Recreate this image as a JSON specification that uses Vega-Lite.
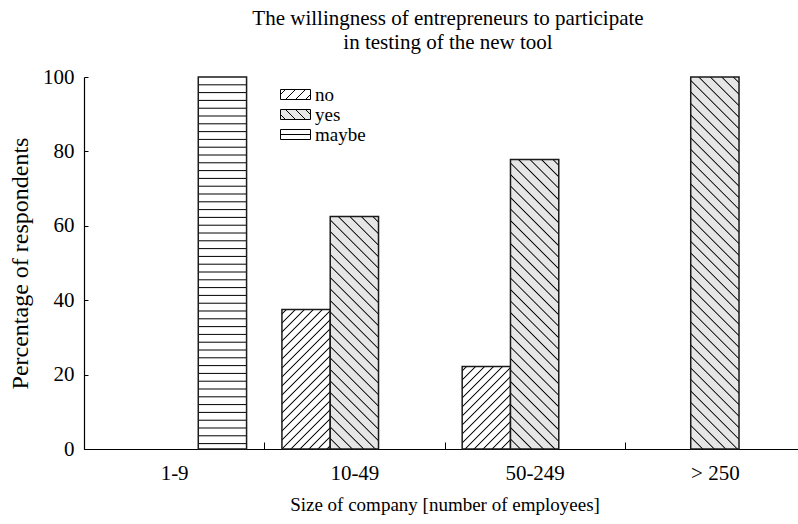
{
"$schema": "https://vega.github.io/schema/vega-lite/v6.json",
"width": 714,
"height": 372,
"autosize": {"type": "none"},
"padding": {"left": 84, "top": 77, "right": 0, "bottom": 75},
"background": "white",
"config": {"view": {"stroke": null}, "font": "Liberation Serif"},
"title": {"text": ["The willingness of entrepreneurs to participate", "in testing of the new tool"], "font": "Liberation Serif", "fontSize": 21, "fontWeight": "normal", "color": "#000", "lineHeight": 24, "offset": 13, "dx": 7, "anchor": "middle"},
"data": {"values": [
{"size": "1-9", "answer": "maybe", "pct": 100},
{"size": "10-49", "answer": "no", "pct": 37.5},
{"size": "10-49", "answer": "yes", "pct": 62.5},
{"size": "50-249", "answer": "no", "pct": 22.2},
{"size": "50-249", "answer": "yes", "pct": 77.8},
{"size": "> 250", "answer": "yes", "pct": 100}
]},
"layer": [
{
"mark": {"type": "bar", "stroke": "#1a1a1a", "strokeWidth": 1.5},
"encoding": {
"x": {"field": "size", "type": "nominal", "sort": ["1-9", "10-49", "50-249", "> 250"],
 "scale": {"domain": ["1-9", "10-49", "50-249", "> 250"], "range": [0, 721], "paddingInner": 0, "paddingOuter": 0},
 "axis": {"title": "Size of company [number of employees]", "titleFont": "Liberation Serif", "titleFontSize": 19, "titleFontWeight": "normal", "titleColor": "#000", "titlePadding": 12,
  "labelFont": "Liberation Serif", "labelFontSize": 21, "labelColor": "#000", "labelAngle": 0, "labelPadding": 20,
  "tickBand": "extent", "tickSize": -7, "tickColor": "#000", "tickWidth": 1, "domainColor": "#000", "domainWidth": 1.2, "grid": false}},
"xOffset": {"field": "answer", "type": "nominal", "scale": {"domain": ["no", "yes", "maybe"], "paddingInner": 0, "paddingOuter": 0.366}},
"y": {"field": "pct", "type": "quantitative", "scale": {"domain": [0, 100]},
 "axis": {"title": "Percentage of respondents", "values": [0, 20, 40, 60, 80, 100], "titleFont": "Liberation Serif", "titleFontSize": 24, "titleFontWeight": "normal", "titleColor": "#000", "titlePadding": 10,
  "labelFont": "Liberation Serif", "labelFontSize": 21, "labelColor": "#000", "labelPadding": 14,
  "tickSize": -4, "tickColor": "#000", "tickWidth": 1, "domainColor": "#000", "domainWidth": 1.2, "grid": false}},
"fill": {"field": "answer", "type": "nominal",
 "scale": {"domain": ["no", "yes", "maybe"], "range": ["#ffffff", "#e6e6e6", "#fefefe"]},
 "legend": {"orient": "none", "legendX": 202, "legendY": 8, "title": null, "symbolSize": 324, "symbolStrokeColor": "#000", "symbolStrokeWidth": 1,
  "labelFont": "Liberation Serif", "labelFontSize": 19, "labelColor": "#000", "labelOffset": 10, "rowPadding": 0,
  "encode": {"symbols": {"update": {"stroke": {"value": "#000"}, "strokeWidth": {"value": 1}}}}},
 "condition": [
  {"test": "datum.answer==='no'&&datum.size==='10-49'", "value": {"gradient": "linear", "x1": 0, "y1": 0, "x2": 0.4162, "y2": 1.2021, "stops": [
   {"offset": 0.0171, "color": "#fff"}, {"offset": 0.0240, "color": "#000"}, {"offset": 0.0309, "color": "#fff"},
   {"offset": 0.0650, "color": "#fff"}, {"offset": 0.0719, "color": "#000"}, {"offset": 0.0788, "color": "#fff"},
   {"offset": 0.1129, "color": "#fff"}, {"offset": 0.1198, "color": "#000"}, {"offset": 0.1267, "color": "#fff"},
   {"offset": 0.1608, "color": "#fff"}, {"offset": 0.1677, "color": "#000"}, {"offset": 0.1746, "color": "#fff"},
   {"offset": 0.2088, "color": "#fff"}, {"offset": 0.2157, "color": "#000"}, {"offset": 0.2226, "color": "#fff"},
   {"offset": 0.2567, "color": "#fff"}, {"offset": 0.2636, "color": "#000"}, {"offset": 0.2705, "color": "#fff"},
   {"offset": 0.3046, "color": "#fff"}, {"offset": 0.3115, "color": "#000"}, {"offset": 0.3184, "color": "#fff"},
   {"offset": 0.3525, "color": "#fff"}, {"offset": 0.3594, "color": "#000"}, {"offset": 0.3663, "color": "#fff"},
   {"offset": 0.4004, "color": "#fff"}, {"offset": 0.4073, "color": "#000"}, {"offset": 0.4142, "color": "#fff"},
   {"offset": 0.4484, "color": "#fff"}, {"offset": 0.4553, "color": "#000"}, {"offset": 0.4622, "color": "#fff"},
   {"offset": 0.4963, "color": "#fff"}, {"offset": 0.5032, "color": "#000"}, {"offset": 0.5101, "color": "#fff"},
   {"offset": 0.5442, "color": "#fff"}, {"offset": 0.5511, "color": "#000"}, {"offset": 0.5580, "color": "#fff"},
   {"offset": 0.5921, "color": "#fff"}, {"offset": 0.5990, "color": "#000"}, {"offset": 0.6059, "color": "#fff"},
   {"offset": 0.6401, "color": "#fff"}, {"offset": 0.6470, "color": "#000"}, {"offset": 0.6539, "color": "#fff"},
   {"offset": 0.6880, "color": "#fff"}, {"offset": 0.6949, "color": "#000"}, {"offset": 0.7018, "color": "#fff"},
   {"offset": 0.7359, "color": "#fff"}, {"offset": 0.7428, "color": "#000"}, {"offset": 0.7497, "color": "#fff"},
   {"offset": 0.7838, "color": "#fff"}, {"offset": 0.7907, "color": "#000"}, {"offset": 0.7976, "color": "#fff"},
   {"offset": 0.8318, "color": "#fff"}, {"offset": 0.8387, "color": "#000"}, {"offset": 0.8456, "color": "#fff"},
   {"offset": 0.8797, "color": "#fff"}, {"offset": 0.8866, "color": "#000"}, {"offset": 0.8935, "color": "#fff"},
   {"offset": 0.9276, "color": "#fff"}, {"offset": 0.9345, "color": "#000"}, {"offset": 0.9414, "color": "#fff"},
   {"offset": 0.9755, "color": "#fff"}, {"offset": 0.9824, "color": "#000"}, {"offset": 0.9893, "color": "#fff"}]}},
  {"test": "datum.answer==='no'&&datum.size==='50-249'", "value": {"gradient": "linear", "x1": 0, "y1": 0, "x2": 0.6907, "y2": 1.1809, "stops": [
   {"offset": 0.0245, "color": "#fff"}, {"offset": 0.0344, "color": "#000"}, {"offset": 0.0443, "color": "#fff"},
   {"offset": 0.0932, "color": "#fff"}, {"offset": 0.1031, "color": "#000"}, {"offset": 0.1131, "color": "#fff"},
   {"offset": 0.1620, "color": "#fff"}, {"offset": 0.1719, "color": "#000"}, {"offset": 0.1818, "color": "#fff"},
   {"offset": 0.2307, "color": "#fff"}, {"offset": 0.2407, "color": "#000"}, {"offset": 0.2506, "color": "#fff"},
   {"offset": 0.2995, "color": "#fff"}, {"offset": 0.3094, "color": "#000"}, {"offset": 0.3194, "color": "#fff"},
   {"offset": 0.3683, "color": "#fff"}, {"offset": 0.3782, "color": "#000"}, {"offset": 0.3881, "color": "#fff"},
   {"offset": 0.4370, "color": "#fff"}, {"offset": 0.4470, "color": "#000"}, {"offset": 0.4569, "color": "#fff"},
   {"offset": 0.5058, "color": "#fff"}, {"offset": 0.5157, "color": "#000"}, {"offset": 0.5257, "color": "#fff"},
   {"offset": 0.5746, "color": "#fff"}, {"offset": 0.5845, "color": "#000"}, {"offset": 0.5944, "color": "#fff"},
   {"offset": 0.6433, "color": "#fff"}, {"offset": 0.6533, "color": "#000"}, {"offset": 0.6632, "color": "#fff"},
   {"offset": 0.7121, "color": "#fff"}, {"offset": 0.7220, "color": "#000"}, {"offset": 0.7320, "color": "#fff"},
   {"offset": 0.7809, "color": "#fff"}, {"offset": 0.7908, "color": "#000"}, {"offset": 0.8007, "color": "#fff"},
   {"offset": 0.8496, "color": "#fff"}, {"offset": 0.8596, "color": "#000"}, {"offset": 0.8695, "color": "#fff"},
   {"offset": 0.9184, "color": "#fff"}, {"offset": 0.9283, "color": "#000"}, {"offset": 0.9383, "color": "#fff"}]}},
  {"test": "datum.answer==='yes'&&datum.size==='10-49'", "value": {"gradient": "linear", "x1": 1, "y1": 0, "x2": 0.7595, "y2": 1.1578, "stops": [
   {"offset": 0.0158, "color": "#e6e6e6"}, {"offset": 0.0205, "color": "#000"}, {"offset": 0.0251, "color": "#e6e6e6"},
   {"offset": 0.0568, "color": "#e6e6e6"}, {"offset": 0.0614, "color": "#000"}, {"offset": 0.0661, "color": "#e6e6e6"},
   {"offset": 0.0978, "color": "#e6e6e6"}, {"offset": 0.1024, "color": "#000"}, {"offset": 0.1070, "color": "#e6e6e6"},
   {"offset": 0.1387, "color": "#e6e6e6"}, {"offset": 0.1433, "color": "#000"}, {"offset": 0.1480, "color": "#e6e6e6"},
   {"offset": 0.1797, "color": "#e6e6e6"}, {"offset": 0.1843, "color": "#000"}, {"offset": 0.1889, "color": "#e6e6e6"},
   {"offset": 0.2206, "color": "#e6e6e6"}, {"offset": 0.2253, "color": "#000"}, {"offset": 0.2299, "color": "#e6e6e6"},
   {"offset": 0.2616, "color": "#e6e6e6"}, {"offset": 0.2662, "color": "#000"}, {"offset": 0.2708, "color": "#e6e6e6"},
   {"offset": 0.3025, "color": "#e6e6e6"}, {"offset": 0.3072, "color": "#000"}, {"offset": 0.3118, "color": "#e6e6e6"},
   {"offset": 0.3435, "color": "#e6e6e6"}, {"offset": 0.3481, "color": "#000"}, {"offset": 0.3527, "color": "#e6e6e6"},
   {"offset": 0.3844, "color": "#e6e6e6"}, {"offset": 0.3891, "color": "#000"}, {"offset": 0.3937, "color": "#e6e6e6"},
   {"offset": 0.4254, "color": "#e6e6e6"}, {"offset": 0.4300, "color": "#000"}, {"offset": 0.4347, "color": "#e6e6e6"},
   {"offset": 0.4663, "color": "#e6e6e6"}, {"offset": 0.4710, "color": "#000"}, {"offset": 0.4756, "color": "#e6e6e6"},
   {"offset": 0.5073, "color": "#e6e6e6"}, {"offset": 0.5119, "color": "#000"}, {"offset": 0.5166, "color": "#e6e6e6"},
   {"offset": 0.5483, "color": "#e6e6e6"}, {"offset": 0.5529, "color": "#000"}, {"offset": 0.5575, "color": "#e6e6e6"},
   {"offset": 0.5892, "color": "#e6e6e6"}, {"offset": 0.5938, "color": "#000"}, {"offset": 0.5985, "color": "#e6e6e6"},
   {"offset": 0.6302, "color": "#e6e6e6"}, {"offset": 0.6348, "color": "#000"}, {"offset": 0.6394, "color": "#e6e6e6"},
   {"offset": 0.6711, "color": "#e6e6e6"}, {"offset": 0.6758, "color": "#000"}, {"offset": 0.6804, "color": "#e6e6e6"},
   {"offset": 0.7121, "color": "#e6e6e6"}, {"offset": 0.7167, "color": "#000"}, {"offset": 0.7213, "color": "#e6e6e6"},
   {"offset": 0.7530, "color": "#e6e6e6"}, {"offset": 0.7577, "color": "#000"}, {"offset": 0.7623, "color": "#e6e6e6"},
   {"offset": 0.7940, "color": "#e6e6e6"}, {"offset": 0.7986, "color": "#000"}, {"offset": 0.8032, "color": "#e6e6e6"},
   {"offset": 0.8349, "color": "#e6e6e6"}, {"offset": 0.8396, "color": "#000"}, {"offset": 0.8442, "color": "#e6e6e6"},
   {"offset": 0.8759, "color": "#e6e6e6"}, {"offset": 0.8805, "color": "#000"}, {"offset": 0.8852, "color": "#e6e6e6"},
   {"offset": 0.9168, "color": "#e6e6e6"}, {"offset": 0.9215, "color": "#000"}, {"offset": 0.9261, "color": "#e6e6e6"},
   {"offset": 0.9578, "color": "#e6e6e6"}, {"offset": 0.9624, "color": "#000"}, {"offset": 0.9671, "color": "#e6e6e6"}]}},
  {"test": "datum.answer==='yes'&&datum.size==='50-249'", "value": {"gradient": "linear", "x1": 1, "y1": 0, "x2": 0.8105, "y2": 1.1353, "stops": [
   {"offset": 0.0132, "color": "#e6e6e6"}, {"offset": 0.0170, "color": "#000"}, {"offset": 0.0209, "color": "#e6e6e6"},
   {"offset": 0.0472, "color": "#e6e6e6"}, {"offset": 0.0511, "color": "#000"}, {"offset": 0.0549, "color": "#e6e6e6"},
   {"offset": 0.0813, "color": "#e6e6e6"}, {"offset": 0.0851, "color": "#000"}, {"offset": 0.0890, "color": "#e6e6e6"},
   {"offset": 0.1153, "color": "#e6e6e6"}, {"offset": 0.1192, "color": "#000"}, {"offset": 0.1230, "color": "#e6e6e6"},
   {"offset": 0.1494, "color": "#e6e6e6"}, {"offset": 0.1532, "color": "#000"}, {"offset": 0.1571, "color": "#e6e6e6"},
   {"offset": 0.1834, "color": "#e6e6e6"}, {"offset": 0.1873, "color": "#000"}, {"offset": 0.1911, "color": "#e6e6e6"},
   {"offset": 0.2175, "color": "#e6e6e6"}, {"offset": 0.2213, "color": "#000"}, {"offset": 0.2252, "color": "#e6e6e6"},
   {"offset": 0.2515, "color": "#e6e6e6"}, {"offset": 0.2554, "color": "#000"}, {"offset": 0.2592, "color": "#e6e6e6"},
   {"offset": 0.2856, "color": "#e6e6e6"}, {"offset": 0.2894, "color": "#000"}, {"offset": 0.2933, "color": "#e6e6e6"},
   {"offset": 0.3196, "color": "#e6e6e6"}, {"offset": 0.3235, "color": "#000"}, {"offset": 0.3273, "color": "#e6e6e6"},
   {"offset": 0.3537, "color": "#e6e6e6"}, {"offset": 0.3575, "color": "#000"}, {"offset": 0.3614, "color": "#e6e6e6"},
   {"offset": 0.3877, "color": "#e6e6e6"}, {"offset": 0.3916, "color": "#000"}, {"offset": 0.3955, "color": "#e6e6e6"},
   {"offset": 0.4218, "color": "#e6e6e6"}, {"offset": 0.4257, "color": "#000"}, {"offset": 0.4295, "color": "#e6e6e6"},
   {"offset": 0.4559, "color": "#e6e6e6"}, {"offset": 0.4597, "color": "#000"}, {"offset": 0.4636, "color": "#e6e6e6"},
   {"offset": 0.4899, "color": "#e6e6e6"}, {"offset": 0.4938, "color": "#000"}, {"offset": 0.4976, "color": "#e6e6e6"},
   {"offset": 0.5240, "color": "#e6e6e6"}, {"offset": 0.5278, "color": "#000"}, {"offset": 0.5317, "color": "#e6e6e6"},
   {"offset": 0.5580, "color": "#e6e6e6"}, {"offset": 0.5619, "color": "#000"}, {"offset": 0.5657, "color": "#e6e6e6"},
   {"offset": 0.5921, "color": "#e6e6e6"}, {"offset": 0.5959, "color": "#000"}, {"offset": 0.5998, "color": "#e6e6e6"},
   {"offset": 0.6261, "color": "#e6e6e6"}, {"offset": 0.6300, "color": "#000"}, {"offset": 0.6338, "color": "#e6e6e6"},
   {"offset": 0.6602, "color": "#e6e6e6"}, {"offset": 0.6640, "color": "#000"}, {"offset": 0.6679, "color": "#e6e6e6"},
   {"offset": 0.6942, "color": "#e6e6e6"}, {"offset": 0.6981, "color": "#000"}, {"offset": 0.7019, "color": "#e6e6e6"},
   {"offset": 0.7283, "color": "#e6e6e6"}, {"offset": 0.7321, "color": "#000"}, {"offset": 0.7360, "color": "#e6e6e6"},
   {"offset": 0.7623, "color": "#e6e6e6"}, {"offset": 0.7662, "color": "#000"}, {"offset": 0.7700, "color": "#e6e6e6"},
   {"offset": 0.7964, "color": "#e6e6e6"}, {"offset": 0.8002, "color": "#000"}, {"offset": 0.8041, "color": "#e6e6e6"},
   {"offset": 0.8304, "color": "#e6e6e6"}, {"offset": 0.8343, "color": "#000"}, {"offset": 0.8381, "color": "#e6e6e6"},
   {"offset": 0.8645, "color": "#e6e6e6"}, {"offset": 0.8683, "color": "#000"}, {"offset": 0.8722, "color": "#e6e6e6"},
   {"offset": 0.8985, "color": "#e6e6e6"}, {"offset": 0.9024, "color": "#000"}, {"offset": 0.9062, "color": "#e6e6e6"},
   {"offset": 0.9326, "color": "#e6e6e6"}, {"offset": 0.9364, "color": "#000"}, {"offset": 0.9403, "color": "#e6e6e6"},
   {"offset": 0.9666, "color": "#e6e6e6"}, {"offset": 0.9705, "color": "#000"}, {"offset": 0.9743, "color": "#e6e6e6"}]}},
  {"test": "datum.answer==='yes'&&datum.size==='> 250'", "value": {"gradient": "linear", "x1": 1, "y1": 0, "x2": 0.8557, "y2": 1.1111, "stops": [
   {"offset": 0.0106, "color": "#e6e6e6"}, {"offset": 0.0137, "color": "#000"}, {"offset": 0.0168, "color": "#e6e6e6"},
   {"offset": 0.0380, "color": "#e6e6e6"}, {"offset": 0.0410, "color": "#000"}, {"offset": 0.0441, "color": "#e6e6e6"},
   {"offset": 0.0653, "color": "#e6e6e6"}, {"offset": 0.0684, "color": "#000"}, {"offset": 0.0715, "color": "#e6e6e6"},
   {"offset": 0.0927, "color": "#e6e6e6"}, {"offset": 0.0958, "color": "#000"}, {"offset": 0.0989, "color": "#e6e6e6"},
   {"offset": 0.1200, "color": "#e6e6e6"}, {"offset": 0.1231, "color": "#000"}, {"offset": 0.1262, "color": "#e6e6e6"},
   {"offset": 0.1474, "color": "#e6e6e6"}, {"offset": 0.1505, "color": "#000"}, {"offset": 0.1536, "color": "#e6e6e6"},
   {"offset": 0.1748, "color": "#e6e6e6"}, {"offset": 0.1779, "color": "#000"}, {"offset": 0.1809, "color": "#e6e6e6"},
   {"offset": 0.2021, "color": "#e6e6e6"}, {"offset": 0.2052, "color": "#000"}, {"offset": 0.2083, "color": "#e6e6e6"},
   {"offset": 0.2295, "color": "#e6e6e6"}, {"offset": 0.2326, "color": "#000"}, {"offset": 0.2357, "color": "#e6e6e6"},
   {"offset": 0.2568, "color": "#e6e6e6"}, {"offset": 0.2599, "color": "#000"}, {"offset": 0.2630, "color": "#e6e6e6"},
   {"offset": 0.2842, "color": "#e6e6e6"}, {"offset": 0.2873, "color": "#000"}, {"offset": 0.2904, "color": "#e6e6e6"},
   {"offset": 0.3116, "color": "#e6e6e6"}, {"offset": 0.3147, "color": "#000"}, {"offset": 0.3177, "color": "#e6e6e6"},
   {"offset": 0.3389, "color": "#e6e6e6"}, {"offset": 0.3420, "color": "#000"}, {"offset": 0.3451, "color": "#e6e6e6"},
   {"offset": 0.3663, "color": "#e6e6e6"}, {"offset": 0.3694, "color": "#000"}, {"offset": 0.3725, "color": "#e6e6e6"},
   {"offset": 0.3937, "color": "#e6e6e6"}, {"offset": 0.3967, "color": "#000"}, {"offset": 0.3998, "color": "#e6e6e6"},
   {"offset": 0.4210, "color": "#e6e6e6"}, {"offset": 0.4241, "color": "#000"}, {"offset": 0.4272, "color": "#e6e6e6"},
   {"offset": 0.4484, "color": "#e6e6e6"}, {"offset": 0.4515, "color": "#000"}, {"offset": 0.4546, "color": "#e6e6e6"},
   {"offset": 0.4757, "color": "#e6e6e6"}, {"offset": 0.4788, "color": "#000"}, {"offset": 0.4819, "color": "#e6e6e6"},
   {"offset": 0.5031, "color": "#e6e6e6"}, {"offset": 0.5062, "color": "#000"}, {"offset": 0.5093, "color": "#e6e6e6"},
   {"offset": 0.5305, "color": "#e6e6e6"}, {"offset": 0.5335, "color": "#000"}, {"offset": 0.5366, "color": "#e6e6e6"},
   {"offset": 0.5578, "color": "#e6e6e6"}, {"offset": 0.5609, "color": "#000"}, {"offset": 0.5640, "color": "#e6e6e6"},
   {"offset": 0.5852, "color": "#e6e6e6"}, {"offset": 0.5883, "color": "#000"}, {"offset": 0.5914, "color": "#e6e6e6"},
   {"offset": 0.6125, "color": "#e6e6e6"}, {"offset": 0.6156, "color": "#000"}, {"offset": 0.6187, "color": "#e6e6e6"},
   {"offset": 0.6399, "color": "#e6e6e6"}, {"offset": 0.6430, "color": "#000"}, {"offset": 0.6461, "color": "#e6e6e6"},
   {"offset": 0.6673, "color": "#e6e6e6"}, {"offset": 0.6703, "color": "#000"}, {"offset": 0.6734, "color": "#e6e6e6"},
   {"offset": 0.6946, "color": "#e6e6e6"}, {"offset": 0.6977, "color": "#000"}, {"offset": 0.7008, "color": "#e6e6e6"},
   {"offset": 0.7220, "color": "#e6e6e6"}, {"offset": 0.7251, "color": "#000"}, {"offset": 0.7282, "color": "#e6e6e6"},
   {"offset": 0.7493, "color": "#e6e6e6"}, {"offset": 0.7524, "color": "#000"}, {"offset": 0.7555, "color": "#e6e6e6"},
   {"offset": 0.7767, "color": "#e6e6e6"}, {"offset": 0.7798, "color": "#000"}, {"offset": 0.7829, "color": "#e6e6e6"},
   {"offset": 0.8041, "color": "#e6e6e6"}, {"offset": 0.8072, "color": "#000"}, {"offset": 0.8102, "color": "#e6e6e6"},
   {"offset": 0.8314, "color": "#e6e6e6"}, {"offset": 0.8345, "color": "#000"}, {"offset": 0.8376, "color": "#e6e6e6"},
   {"offset": 0.8588, "color": "#e6e6e6"}, {"offset": 0.8619, "color": "#000"}, {"offset": 0.8650, "color": "#e6e6e6"},
   {"offset": 0.8861, "color": "#e6e6e6"}, {"offset": 0.8892, "color": "#000"}, {"offset": 0.8923, "color": "#e6e6e6"},
   {"offset": 0.9135, "color": "#e6e6e6"}, {"offset": 0.9166, "color": "#000"}, {"offset": 0.9197, "color": "#e6e6e6"},
   {"offset": 0.9409, "color": "#e6e6e6"}, {"offset": 0.9440, "color": "#000"}, {"offset": 0.9470, "color": "#e6e6e6"},
   {"offset": 0.9682, "color": "#e6e6e6"}, {"offset": 0.9713, "color": "#000"}, {"offset": 0.9744, "color": "#e6e6e6"}]}},
  {"test": "datum.answer==='maybe'", "value": {"gradient": "linear", "x1": 0, "y1": 0, "x2": 0, "y2": 1, "stops": [
   {"offset": 0.0183, "color": "#fff"}, {"offset": 0.0210, "color": "#000"}, {"offset": 0.0237, "color": "#fff"},
   {"offset": 0.0393, "color": "#fff"}, {"offset": 0.0419, "color": "#000"}, {"offset": 0.0446, "color": "#fff"},
   {"offset": 0.0602, "color": "#fff"}, {"offset": 0.0629, "color": "#000"}, {"offset": 0.0656, "color": "#fff"},
   {"offset": 0.0812, "color": "#fff"}, {"offset": 0.0839, "color": "#000"}, {"offset": 0.0866, "color": "#fff"},
   {"offset": 0.1022, "color": "#fff"}, {"offset": 0.1048, "color": "#000"}, {"offset": 0.1075, "color": "#fff"},
   {"offset": 0.1231, "color": "#fff"}, {"offset": 0.1258, "color": "#000"}, {"offset": 0.1285, "color": "#fff"},
   {"offset": 0.1441, "color": "#fff"}, {"offset": 0.1468, "color": "#000"}, {"offset": 0.1495, "color": "#fff"},
   {"offset": 0.1651, "color": "#fff"}, {"offset": 0.1677, "color": "#000"}, {"offset": 0.1704, "color": "#fff"},
   {"offset": 0.1860, "color": "#fff"}, {"offset": 0.1887, "color": "#000"}, {"offset": 0.1914, "color": "#fff"},
   {"offset": 0.2070, "color": "#fff"}, {"offset": 0.2097, "color": "#000"}, {"offset": 0.2124, "color": "#fff"},
   {"offset": 0.2280, "color": "#fff"}, {"offset": 0.2306, "color": "#000"}, {"offset": 0.2333, "color": "#fff"},
   {"offset": 0.2489, "color": "#fff"}, {"offset": 0.2516, "color": "#000"}, {"offset": 0.2543, "color": "#fff"},
   {"offset": 0.2699, "color": "#fff"}, {"offset": 0.2726, "color": "#000"}, {"offset": 0.2753, "color": "#fff"},
   {"offset": 0.2909, "color": "#fff"}, {"offset": 0.2935, "color": "#000"}, {"offset": 0.2962, "color": "#fff"},
   {"offset": 0.3118, "color": "#fff"}, {"offset": 0.3145, "color": "#000"}, {"offset": 0.3172, "color": "#fff"},
   {"offset": 0.3328, "color": "#fff"}, {"offset": 0.3355, "color": "#000"}, {"offset": 0.3382, "color": "#fff"},
   {"offset": 0.3538, "color": "#fff"}, {"offset": 0.3565, "color": "#000"}, {"offset": 0.3591, "color": "#fff"},
   {"offset": 0.3747, "color": "#fff"}, {"offset": 0.3774, "color": "#000"}, {"offset": 0.3801, "color": "#fff"},
   {"offset": 0.3957, "color": "#fff"}, {"offset": 0.3984, "color": "#000"}, {"offset": 0.4011, "color": "#fff"},
   {"offset": 0.4167, "color": "#fff"}, {"offset": 0.4194, "color": "#000"}, {"offset": 0.4220, "color": "#fff"},
   {"offset": 0.4376, "color": "#fff"}, {"offset": 0.4403, "color": "#000"}, {"offset": 0.4430, "color": "#fff"},
   {"offset": 0.4586, "color": "#fff"}, {"offset": 0.4613, "color": "#000"}, {"offset": 0.4640, "color": "#fff"},
   {"offset": 0.4796, "color": "#fff"}, {"offset": 0.4823, "color": "#000"}, {"offset": 0.4849, "color": "#fff"},
   {"offset": 0.5005, "color": "#fff"}, {"offset": 0.5032, "color": "#000"}, {"offset": 0.5059, "color": "#fff"},
   {"offset": 0.5215, "color": "#fff"}, {"offset": 0.5242, "color": "#000"}, {"offset": 0.5269, "color": "#fff"},
   {"offset": 0.5425, "color": "#fff"}, {"offset": 0.5452, "color": "#000"}, {"offset": 0.5478, "color": "#fff"},
   {"offset": 0.5634, "color": "#fff"}, {"offset": 0.5661, "color": "#000"}, {"offset": 0.5688, "color": "#fff"},
   {"offset": 0.5844, "color": "#fff"}, {"offset": 0.5871, "color": "#000"}, {"offset": 0.5898, "color": "#fff"},
   {"offset": 0.6054, "color": "#fff"}, {"offset": 0.6081, "color": "#000"}, {"offset": 0.6108, "color": "#fff"},
   {"offset": 0.6263, "color": "#fff"}, {"offset": 0.6290, "color": "#000"}, {"offset": 0.6317, "color": "#fff"},
   {"offset": 0.6473, "color": "#fff"}, {"offset": 0.6500, "color": "#000"}, {"offset": 0.6527, "color": "#fff"},
   {"offset": 0.6683, "color": "#fff"}, {"offset": 0.6710, "color": "#000"}, {"offset": 0.6737, "color": "#fff"},
   {"offset": 0.6893, "color": "#fff"}, {"offset": 0.6919, "color": "#000"}, {"offset": 0.6946, "color": "#fff"},
   {"offset": 0.7102, "color": "#fff"}, {"offset": 0.7129, "color": "#000"}, {"offset": 0.7156, "color": "#fff"},
   {"offset": 0.7312, "color": "#fff"}, {"offset": 0.7339, "color": "#000"}, {"offset": 0.7366, "color": "#fff"},
   {"offset": 0.7522, "color": "#fff"}, {"offset": 0.7548, "color": "#000"}, {"offset": 0.7575, "color": "#fff"},
   {"offset": 0.7731, "color": "#fff"}, {"offset": 0.7758, "color": "#000"}, {"offset": 0.7785, "color": "#fff"},
   {"offset": 0.7941, "color": "#fff"}, {"offset": 0.7968, "color": "#000"}, {"offset": 0.7995, "color": "#fff"},
   {"offset": 0.8151, "color": "#fff"}, {"offset": 0.8177, "color": "#000"}, {"offset": 0.8204, "color": "#fff"},
   {"offset": 0.8360, "color": "#fff"}, {"offset": 0.8387, "color": "#000"}, {"offset": 0.8414, "color": "#fff"},
   {"offset": 0.8570, "color": "#fff"}, {"offset": 0.8597, "color": "#000"}, {"offset": 0.8624, "color": "#fff"},
   {"offset": 0.8780, "color": "#fff"}, {"offset": 0.8806, "color": "#000"}, {"offset": 0.8833, "color": "#fff"},
   {"offset": 0.8989, "color": "#fff"}, {"offset": 0.9016, "color": "#000"}, {"offset": 0.9043, "color": "#fff"},
   {"offset": 0.9199, "color": "#fff"}, {"offset": 0.9226, "color": "#000"}, {"offset": 0.9253, "color": "#fff"},
   {"offset": 0.9409, "color": "#fff"}, {"offset": 0.9435, "color": "#000"}, {"offset": 0.9462, "color": "#fff"},
   {"offset": 0.9618, "color": "#fff"}, {"offset": 0.9645, "color": "#000"}, {"offset": 0.9672, "color": "#fff"},
   {"offset": 0.9828, "color": "#fff"}, {"offset": 0.9855, "color": "#000"}, {"offset": 0.9882, "color": "#fff"}]}}
 ]}
}
},
{
"transform": [{"filter": "false"}],
"mark": {"type": "point", "filled": true, "stroke": "#000", "strokeWidth": 1},
"encoding": {
"fill": {"field": "answer", "type": "nominal",
 "legend": {"orient": "none", "legendX": 202, "legendY": 8, "title": null, "symbolSize": 324, "symbolStrokeColor": "#000", "symbolStrokeWidth": 1,
  "labelFont": "Liberation Serif", "labelFontSize": 19, "labelColor": "#000", "labelOffset": 10, "rowPadding": 0,
  "encode": {"symbols": {"update": {"stroke": {"value": "#000"}, "strokeWidth": {"value": 1}}}}}},
"shape": {"field": "answer", "type": "nominal",
 "scale": {"domain": ["no", "yes", "maybe"], "range": [
  "M-1.6667,-0.5556H1.6667V0.5556H-1.6667Z M-1.6667,0L-1.1111,-0.5556 M-1.1111,0.5556L0,-0.5556 M0,0.5556L1.1111,-0.5556 M1.1111,0.5556L1.6667,0",
  "M-1.6667,-0.5556H1.6667V0.5556H-1.6667Z M1.1111,-0.5556L1.6667,0 M0,-0.5556L1.1111,0.5556 M-1.1111,-0.5556L0,0.5556 M-1.6667,0L-1.1111,0.5556",
  "M-1.6667,-0.5556H1.6667V0.5556H-1.6667Z M-1.6667,0H1.6667"]},
 "legend": {"orient": "none", "legendX": 202, "legendY": 8, "title": null, "symbolSize": 324, "symbolStrokeColor": "#000", "symbolStrokeWidth": 1,
  "labelFont": "Liberation Serif", "labelFontSize": 19, "labelColor": "#000", "labelOffset": 10, "rowPadding": 0,
  "encode": {"symbols": {"update": {"stroke": {"value": "#000"}, "strokeWidth": {"value": 1}}}}}}
}
}
]
}
